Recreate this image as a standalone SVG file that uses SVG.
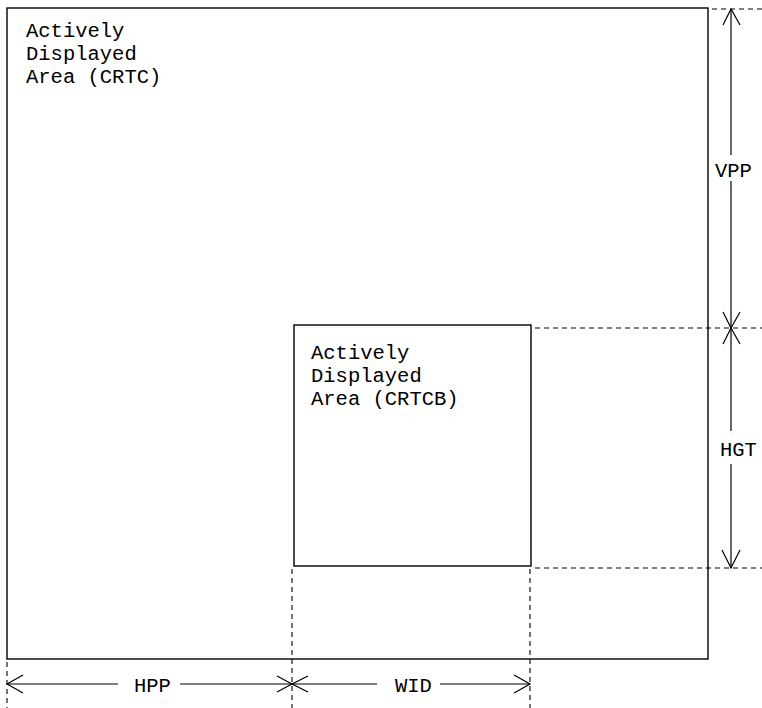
<svg xmlns="http://www.w3.org/2000/svg" width="762" height="708" viewBox="0 0 762 708">
<style>
.box{fill:none;stroke:#000;stroke-width:1.4}
.ln{fill:none;stroke:#000;stroke-width:1.2}
.dash{fill:none;stroke:#000;stroke-width:1.1;stroke-dasharray:5 4}
text{font-family:"Liberation Mono","Courier New",monospace;font-size:20.5px;fill:#000}
</style>
<rect width="762" height="708" fill="#fff"/>
<g id="crtc">
<rect class="box" x="7" y="8" width="701" height="651"/>
<text x="26" y="37">Actively</text>
<text x="26" y="60">Displayed</text>
<text x="26" y="83">Area (CRTC)</text>
</g>
<g id="crtcb">
<rect class="box" x="294" y="325" width="237" height="241"/>
<text x="311" y="359">Actively</text>
<text x="311" y="382">Displayed</text>
<text x="311" y="405">Area (CRTCB)</text>
</g>
<g id="connectors">
<line class="dash" x1="712" y1="9" x2="762" y2="9"/>
<line class="dash" x1="535" y1="328" x2="762" y2="328"/>
<line class="dash" x1="535" y1="568" x2="762" y2="568"/>
<line class="dash" x1="7" y1="662" x2="7" y2="708"/>
<line class="dash" x1="292" y1="569" x2="292" y2="708"/>
<line class="dash" x1="530" y1="569" x2="530" y2="708"/>
<!-- VPP -->
<line class="ln" x1="731" y1="9" x2="731" y2="155"/>
<line class="ln" x1="731" y1="181" x2="731" y2="328"/>
<polyline class="ln" points="723,25 731,9 740,25"/>
<polyline class="ln" points="723,312 731,328 740,312"/>
<!-- HGT -->
<line class="ln" x1="731" y1="328" x2="731" y2="431"/>
<line class="ln" x1="731" y1="464" x2="731" y2="568"/>
<polyline class="ln" points="723,344 731,328 740,344"/>
<polyline class="ln" points="722,550 731,568 740,550"/>
<!-- HPP -->
<line class="ln" x1="7" y1="684" x2="118" y2="684"/>
<line class="ln" x1="180" y1="684" x2="292" y2="684"/>
<polyline class="ln" points="23,675 7,684 23,693"/>
<polyline class="ln" points="277,676 292,684 277,692"/>
<!-- WID -->
<line class="ln" x1="292" y1="684" x2="377" y2="684"/>
<line class="ln" x1="440" y1="684" x2="530" y2="684"/>
<polyline class="ln" points="308,676 292,684 308,692"/>
<polyline class="ln" points="514,675 530,684 514,693"/>
</g>
<g id="labels">
<text x="715" y="177">VPP</text>
<text x="720" y="456">HGT</text>
<text x="134" y="692">HPP</text>
<text x="395" y="692">WID</text>
</g>
</svg>
